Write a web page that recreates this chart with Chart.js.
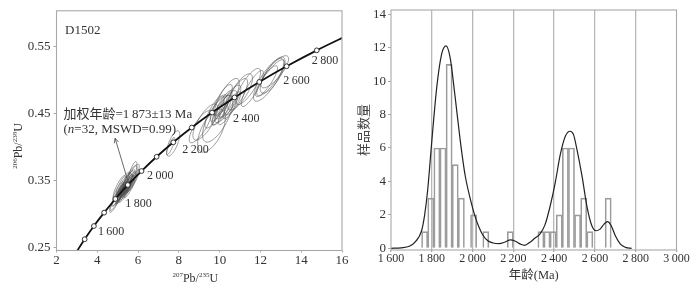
<!DOCTYPE html>
<html><head><meta charset="utf-8">
<script src="https://cdn.jsdelivr.net/npm/chart.js@4"></script>
<style>
html,body{margin:0;padding:0;background:#fff;}
#wrap{position:relative;width:695px;height:286px;overflow:hidden;}
#c1{position:absolute;left:0;top:0;}
#c2{position:absolute;left:350px;top:0;}
</style></head><body>
<div id="wrap"><canvas id="c1" width="350" height="286"></canvas><canvas id="c2" width="345" height="286"></canvas></div>
<script>
// ===== Left panel: concordia reference curve (age markers every 100 Ma) =====
const concAges = [1400,1500,1600,1700,1800,1900,2000,2100,2200,2300,2400,2500,2600,2700,2800,2900];
const concX = [2.970,3.381,3.834,4.335,4.887,5.496,6.169,6.910,7.729,8.633,9.630,10.730,11.944,13.284,14.762,16.393];
const concY = [0.2426,0.2620,0.2817,0.3017,0.3221,0.3430,0.3638,0.3851,0.4067,0.4287,0.4511,0.4737,0.4968,0.5202,0.5440,0.5681];
const concLabelAges = [1600,1800,2000,2200,2400,2600,2800];

// ===== Left panel: analyses (error ellipses: centre, half-extents, correlation) =====
const ellX = [5.30,5.25,5.40,5.35,5.20,5.45,5.15,5.50,5.05,5.28,5.38,5.10,5.55,5.00,5.32,5.22,5.60,4.95,5.42,5.18,5.48,5.12,5.65,5.35,5.70,5.27,4.90,5.58,5.45,5.08,5.75,5.68,5.02,5.55,
  7.72,7.60,
  9.60,9.90,9.30,9.05,10.10,10.30,10.20,10.40,9.95,10.50,10.00,10.35,9.75,10.80,11.00,11.40,11.60,12.30,12.50,12.60,12.40,12.70,10.60,10.15];
const ellY = [0.336,0.334,0.339,0.338,0.332,0.341,0.331,0.343,0.328,0.339,0.334,0.333,0.346,0.325,0.342,0.329,0.350,0.322,0.336,0.336,0.345,0.327,0.345,0.331,0.355,0.345,0.318,0.338,0.348,0.340,0.349,0.356,0.334,0.352,
  0.405,0.401,
  0.424,0.442,0.437,0.430,0.455,0.460,0.465,0.455,0.458,0.468,0.450,0.472,0.452,0.475,0.482,0.490,0.487,0.498,0.503,0.507,0.500,0.512,0.462,0.470];
const ellSX = [0.26,0.30,0.29,0.24,0.28,0.31,0.26,0.30,0.30,0.25,0.26,0.29,0.34,0.31,0.36,0.29,0.36,0.34,0.22,0.24,0.26,0.24,0.30,0.29,0.36,0.34,0.29,0.26,0.31,0.30,0.31,0.26,0.26,0.29,
  0.32,0.20,
  0.68,0.74,0.61,0.54,0.47,0.54,0.41,0.47,0.41,0.54,0.38,0.61,0.47,0.57,0.61,0.61,0.54,0.54,0.68,0.61,0.74,0.68,0.43,0.47];
const ellSY = [0.013,0.014,0.014,0.012,0.013,0.016,0.014,0.014,0.016,0.013,0.013,0.014,0.017,0.014,0.019,0.014,0.022,0.017,0.012,0.013,0.014,0.013,0.014,0.014,0.019,0.017,0.016,0.014,0.016,0.017,0.017,0.022,0.014,0.014,
  0.019,0.013,
  0.032,0.035,0.027,0.024,0.022,0.024,0.019,0.022,0.020,0.024,0.018,0.030,0.024,0.027,0.027,0.027,0.027,0.023,0.027,0.027,0.032,0.024,0.020,0.023];
const ellRho = [0.90,0.88,0.90,0.90,0.90,0.90,0.85,0.88,0.90,0.85,0.90,0.90,0.90,0.90,0.85,0.90,0.80,0.90,0.90,0.88,0.90,0.90,0.90,0.90,0.85,0.85,0.90,0.90,0.88,0.85,0.90,0.80,0.90,0.90,
  0.70,0.85,
  0.60,0.70,0.75,0.80,0.80,0.80,0.85,0.85,0.80,0.80,0.85,0.75,0.80,0.80,0.75,0.80,0.85,0.85,0.85,0.75,0.80,0.80,0.85,0.80];

const xTicksLeft = [2,4,6,8,10,12,14,16];
const yTicksLeft = [0.25,0.35,0.45,0.55];

// ===== Right panel: histogram (30 Ma bins, centres) and density curve =====
const histCenters = [1765,1795,1825,1855,1885,1915,1945,2005,2065,2185,2335,2365,2395,2425,2455,2485,2515,2545,2575,2665];
const histCounts  = [1,3,6,6,11,5,3,2,1,1,1,1,1,2,6,6,2,3,1,3];
const kdeAges = [1600,1650,1690,1720,1750,1765,1780,1800,1825,1848,1870,1890,1914,1939,1963,1990,2010,2030,2050,2075,2100,2130,2160,2185,2210,2235,2255,2280,2305,2330,2355,2380,2405,2430,2455,2478,2495,2512,2537,2561,2585,2605,2625,2645,2662,2680,2700,2725,2750,2780];
const kdeVals = [0,0.03,0.12,0.4,1.05,2.0,3.5,6.4,9.7,11.6,12.1,11.4,9.1,6.5,4.4,2.9,2.0,1.3,0.8,0.45,0.32,0.28,0.38,0.5,0.42,0.25,0.18,0.35,0.6,0.85,1.4,2.5,3.9,5.6,6.7,7.0,6.8,5.9,4.3,2.5,1.35,1.05,1.15,1.45,1.6,1.35,0.75,0.25,0.06,0];
const xTicksRight = [1600,1800,2000,2200,2400,2600,2800,3000];
const yTicksRight = [0,2,4,6,8,10,12,14];

// ===== styling helpers =====
const SERIF = "'Liberation Serif','Times New Roman','Noto Sans CJK SC',serif";
const CJK = "'Noto Sans CJK SC','Liberation Serif',sans-serif";
const TXT = '#333';
const FRAME = '#a8a8a8';
const fmtThousands = v => { const s = String(v); return s.length > 3 ? s.slice(0, s.length-3) + '\u2009' + s.slice(-3) : s; };

function drawRich(ctx, segs, x, y, align) {
  let w = 0;
  segs.forEach(s => { ctx.font = (s.it ? 'italic ' : '') + s.size + 'px ' + (s.fam || SERIF); s.w = ctx.measureText(s.t).width; w += s.w; });
  let cx = align === 'center' ? x - w/2 : x;
  ctx.textAlign = 'left';
  ctx.textBaseline = 'alphabetic';
  segs.forEach(s => { ctx.font = (s.it ? 'italic ' : '') + s.size + 'px ' + (s.fam || SERIF); ctx.fillText(s.t, cx, y - (s.sup || 0)); cx += s.w; });
}

function framePlugin(id) {
  return { id, afterDraw(chart) {
    const {ctx, chartArea:a} = chart;
    ctx.save(); ctx.strokeStyle = FRAME; ctx.lineWidth = 1.1;
    ctx.strokeRect(a.left, a.top, a.right - a.left, a.bottom - a.top);
    ctx.restore();
  }};
}

// ===== Left chart =====
const ellipsePlugin = {
  id: 'ellipses',
  beforeDatasetsDraw(chart) {
    const {ctx, chartArea:a} = chart; const xs = chart.scales.x, ys = chart.scales.y;
    ctx.save();
    ctx.beginPath(); ctx.rect(a.left, a.top, a.right - a.left, a.bottom - a.top); ctx.clip();
    ctx.strokeStyle = 'rgba(80,80,80,0.8)'; ctx.lineWidth = 0.7;
    for (let i = 0; i < ellX.length; i++) {
      const r = ellRho[i], q = Math.sqrt(1 - r*r);
      ctx.beginPath();
      for (let k = 0; k <= 60; k++) {
        const th = k / 60 * Math.PI * 2, u = Math.cos(th), v = Math.sin(th);
        const px = xs.getPixelForValue(ellX[i] + ellSX[i]*u);
        const py = ys.getPixelForValue(ellY[i] + ellSY[i]*(r*u + q*v));
        if (k === 0) ctx.moveTo(px, py); else ctx.lineTo(px, py);
      }
      ctx.closePath(); ctx.stroke();
    }
    ctx.restore();
  }
};

const labelOffsets = {1600:[4,6],1800:[10,5],2000:[5.5,5],2200:[9,8],2400:[21,6],2600:[24,-1],2800:[-5,11]};

const leftTextPlugin = {
  id: 'leftText',
  afterDatasetsDraw(chart) {
    const {ctx} = chart; const xs = chart.scales.x, ys = chart.scales.y;
    ctx.save();
    ctx.fillStyle = TXT;
    ctx.font = '12px ' + SERIF; ctx.textAlign = 'left'; ctx.textBaseline = 'middle';
    concLabelAges.forEach(a => {
      const i = concAges.indexOf(a); const o = labelOffsets[a];
      ctx.fillText(fmtThousands(a), xs.getPixelForValue(concX[i]) + o[0], ys.getPixelForValue(concY[i]) + o[1]);
    });
    ctx.font = '13px ' + SERIF;
    ctx.fillText('D1502', xs.getPixelForValue(2.42), ys.getPixelForValue(0.5738));
    const tx = xs.getPixelForValue(2.344);
    ctx.textBaseline = 'middle';
    ctx.font = '13px ' + SERIF;
    ctx.fillText('加权年龄=1\u2009873±13 Ma', tx, ys.getPixelForValue(0.4487));
    const y2 = ys.getPixelForValue(0.4274) + 4.5;
    drawRich(ctx, [{t:'(',size:13},{t:'n',size:13,it:true},{t:'=32, MSWD=0.99)',size:13}], tx, y2, 'left');
    const ax1 = xs.getPixelForValue(5.463), ay1 = ys.getPixelForValue(0.3528);
    const ax2 = xs.getPixelForValue(4.873), ay2 = ys.getPixelForValue(0.4127);
    ctx.strokeStyle = '#444'; ctx.lineWidth = 0.8;
    ctx.beginPath(); ctx.moveTo(ax1, ay1); ctx.lineTo(ax2, ay2); ctx.stroke();
    const ang = Math.atan2(ay2 - ay1, ax2 - ax1);
    ctx.beginPath();
    ctx.moveTo(ax2 - 5*Math.cos(ang - 0.45), ay2 - 5*Math.sin(ang - 0.45));
    ctx.lineTo(ax2, ay2);
    ctx.lineTo(ax2 - 5*Math.cos(ang + 0.45), ay2 - 5*Math.sin(ang + 0.45));
    ctx.stroke();
    ctx.restore();
  },
  afterDraw(chart) {
    const {ctx, chartArea:a} = chart;
    ctx.save(); ctx.fillStyle = TXT;
    drawRich(ctx, [{t:'207',size:7,sup:5},{t:'Pb/',size:12},{t:'235',size:7,sup:5},{t:'U',size:12}], (a.left + a.right)/2 - 4, 281.5, 'center');
    ctx.translate(21.5, 146); ctx.rotate(-Math.PI/2);
    drawRich(ctx, [{t:'206',size:7,sup:5},{t:'Pb/',size:12},{t:'238',size:7,sup:5},{t:'U',size:12}], 0, 0, 'center');
    ctx.restore();
  }
};

new Chart(document.getElementById('c1'), {
  type: 'scatter',
  data: { datasets: [{
    type: 'line',
    data: concAges.map((a, i) => ({x: concX[i], y: concY[i]})),
    borderColor: '#111', borderWidth: 1.8,
    cubicInterpolationMode: 'monotone',
    pointRadius: concAges.map(a => (a >= 1500 && a <= 2800) ? 2.4 : 0),
    pointBackgroundColor: '#fff', pointBorderColor: '#222', pointBorderWidth: 0.9,
    fill: false
  }]},
  options: {
    responsive: false, animation: false, devicePixelRatio: 1,
    layout: { padding: { top: 9.3, right: 8, left: 0, bottom: 0 } },
    plugins: { legend: { display: false }, tooltip: { enabled: false } },
    scales: {
      x: {
        type: 'linear', min: 2, max: 16,
        afterBuildTicks: s => { s.ticks = xTicksLeft.map(v => ({value: v})); },
        afterFit: s => { s.height = 35.5; },
        grid: { drawOnChartArea: false, drawTicks: true, tickLength: 2, color: FRAME },
        border: { display: false },
        ticks: { color: TXT, padding: 0, font: { family: SERIF, size: 13 }, maxRotation: 0 }
      },
      y: {
        type: 'linear', min: 0.2452, max: 0.603,
        afterBuildTicks: s => { s.ticks = yTicksLeft.map(v => ({value: v})); },
        afterFit: s => { s.width = 56.5; },
        grid: { drawOnChartArea: false, drawTicks: true, tickLength: 3, color: FRAME },
        border: { display: false },
        ticks: { color: TXT, padding: 3, font: { family: SERIF, size: 13 }, callback: v => Number(v).toFixed(2) }
      }
    }
  },
  plugins: [ellipsePlugin, leftTextPlugin, framePlugin('frameL')]
});

// ===== Right chart =====
const rightTextPlugin = {
  id: 'rightText',
  afterDraw(chart) {
    const {ctx, chartArea:a} = chart;
    ctx.save(); ctx.fillStyle = TXT;
    ctx.font = '12.5px ' + SERIF; ctx.textAlign = 'center'; ctx.textBaseline = 'middle';
    ctx.fillText('年龄(Ma)', (a.left + a.right)/2, 276);
    ctx.translate(13, (a.top + a.bottom)/2); ctx.rotate(-Math.PI/2);
    ctx.fillStyle = '#444';
    ctx.font = '13px ' + CJK;
    ctx.fillText('样品数量', 0, 0);
    ctx.restore();
  }
};

new Chart(document.getElementById('c2'), {
  type: 'bar',
  data: { datasets: [
    { type: 'line', data: kdeAges.map((a, i) => ({x: a, y: kdeVals[i]})), borderColor: '#222', borderWidth: 1.2,
      pointRadius: 0, cubicInterpolationMode: 'monotone', fill: false, order: 0 },
    { type: 'bar', data: histCenters.map((c, i) => ({x: c, y: histCounts[i]})), backgroundColor: 'rgba(255,255,255,0)',
      borderColor: '#9c9c9c', borderWidth: 1, barPercentage: 1, categoryPercentage: 1, order: 1 }
  ]},
  options: {
    responsive: false, animation: false, devicePixelRatio: 1,
    layout: { padding: { top: 10, right: 18.5, left: 0, bottom: 0 } },
    plugins: { legend: { display: false }, tooltip: { enabled: false } },
    scales: {
      x: {
        type: 'linear', min: 1600, max: 3000, offset: false,
        afterBuildTicks: s => { s.ticks = xTicksRight.map(v => ({value: v})); },
        afterFit: s => { s.height = 36; },
        grid: { offset: false, drawOnChartArea: true, drawTicks: true, tickLength: 2, lineWidth: 1.3,
                color: c => (c.tick && c.tick.value > 1600 && c.tick.value < 3000) ? '#b8b8b8' : 'rgba(0,0,0,0)', tickColor: FRAME },
        border: { display: false },
        ticks: { color: TXT, padding: 0, font: { family: SERIF, size: 12 }, maxRotation: 0, callback: v => fmtThousands(v) }
      },
      y: {
        type: 'linear', min: -0.1, max: 14.25,
        afterBuildTicks: s => { s.ticks = yTicksRight.map(v => ({value: v})); },
        afterFit: s => { s.width = 41; },
        grid: { drawOnChartArea: false, drawTicks: true, tickLength: 3, color: FRAME },
        border: { display: false },
        ticks: { color: TXT, padding: 2, font: { family: SERIF, size: 13 } }
      }
    }
  },
  plugins: [rightTextPlugin, framePlugin('frameR')]
});
</script></body></html>
